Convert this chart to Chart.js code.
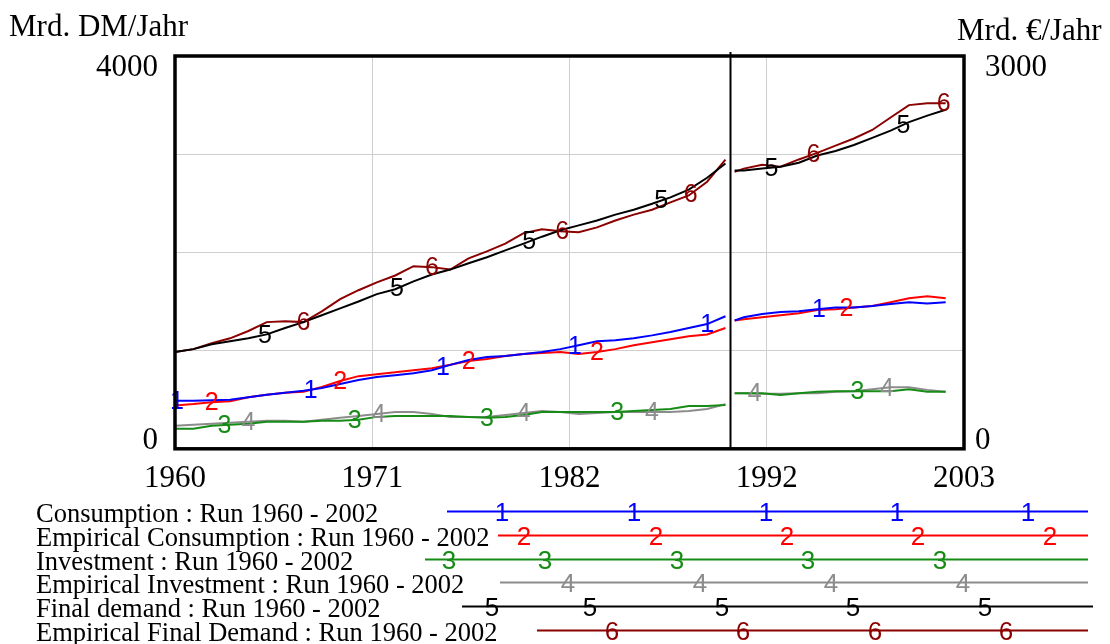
<!DOCTYPE html>
<html>
<head>
<meta charset="utf-8">
<script src="https://cdn.jsdelivr.net/npm/chart.js@4.4.1/dist/chart.umd.min.js"></script>
<style>
  html, body { margin: 0; padding: 0; background: #ffffff; }
  #wrap { width: 1110px; height: 644px; position: relative; }
</style>
</head>
<body>
<div id="wrap"><canvas id="chart" width="1110" height="644"></canvas></div>
<script>
// ---- Time axes -------------------------------------------------------
// West German period (Mrd. DM, left axis) and unified period (Mrd. €, right axis)
const yearsDM  = [1960, 1961, 1962, 1963, 1964, 1965, 1966, 1967, 1968, 1969,
                  1970, 1971, 1972, 1973, 1974, 1975, 1976, 1977, 1978, 1979,
                  1980, 1981, 1982, 1983, 1984, 1985, 1986, 1987, 1988, 1989, 1990];
const yearsEUR = [1990.5, 1991, 1992, 1993, 1994, 1995, 1996, 1997, 1998, 1999, 2000, 2001, 2002];
const breakYear = 1990.25;

const xTickValues = [1960, 1970.75, 1981.5, 1992.25, 2003];
const xTickLabels = ['1960', '1971', '1982', '1992', '2003'];
const dmTicks  = [0, 4000];
const eurTicks = [0, 3000];

// ---- Series: Mrd. DM/Jahr, 1960-1990 ----------------------------------
const consumptionDM     = [490, 490, 495, 500, 525, 550, 570, 590, 620, 660, 700, 730, 750, 770, 800, 855,
                           905, 935, 945, 965, 985, 1015, 1055, 1095, 1105, 1125, 1155, 1190, 1230, 1270, 1350];
const empConsumptionDM  = [440, 455, 475, 485, 525, 550, 570, 580, 630, 690, 740, 760, 780, 800, 820, 855,
                           895, 915, 945, 965, 975, 985, 965, 985, 1015, 1055, 1085, 1115, 1145, 1165, 1230];
const investmentDM      = [205, 205, 235, 245, 255, 275, 275, 275, 285, 285, 295, 325, 335, 335, 335, 335,
                           325, 315, 325, 345, 375, 375, 375, 375, 375, 385, 395, 405, 435, 435, 445];
const empInvestmentDM   = [235, 245, 255, 265, 275, 285, 285, 275, 295, 315, 335, 355, 375, 375, 355, 325,
                           325, 325, 345, 365, 385, 375, 355, 365, 375, 375, 375, 375, 385, 405, 455];
const finalDemandDM     = [985, 1015, 1065, 1095, 1125, 1165, 1230, 1290, 1360, 1430, 1500, 1575, 1625, 1705, 1775, 1825,
                           1890, 1950, 2020, 2090, 2160, 2225, 2275, 2325, 2385, 2435, 2495, 2560, 2640, 2760, 2905];
const empFinalDemandDM  = [985, 1015, 1075, 1125, 1200, 1290, 1300, 1290, 1400, 1525, 1615, 1695, 1765, 1860, 1850, 1825,
                           1940, 2010, 2090, 2195, 2235, 2215, 2205, 2255, 2325, 2385, 2435, 2510, 2580, 2720, 2945];

// ---- Series: Mrd. €/Jahr, 1990-2002 -----------------------------------
const consumptionEUR    = [980, 1005, 1030, 1045, 1050, 1065, 1080, 1080, 1090, 1105, 1120, 1110, 1120];
const empConsumptionEUR = [980, 990, 1005, 1020, 1035, 1060, 1065, 1080, 1090, 1120, 1150, 1165, 1150];
const investmentEUR     = [425, 425, 425, 410, 425, 435, 440, 440, 440, 440, 455, 435, 435];
const empInvestmentEUR  = [425, 425, 420, 420, 425, 425, 435, 440, 455, 470, 470, 450, 435];
const finalDemandEUR    = [2125, 2125, 2140, 2155, 2185, 2240, 2275, 2320, 2375, 2430, 2495, 2545, 2590];
const empFinalDemandEUR = [2115, 2140, 2170, 2155, 2210, 2260, 2315, 2370, 2435, 2530, 2625, 2640, 2640];

const seriesLabels = [
  'Consumption : Run 1960 - 2002',
  'Empirical Consumption : Run 1960 - 2002',
  'Investment : Run 1960 - 2002',
  'Empirical Investment : Run 1960 - 2002',
  'Final demand : Run 1960 - 2002',
  'Empirical Final Demand : Run 1960 - 2002'
];
const seriesMarks  = ['1', '2', '3', '4', '5', '6'];
const seriesColors = ['#0000ff', '#ff0000', '#168c16', '#8c8c8c', '#000000', '#8b0000'];
const seriesDM  = [consumptionDM, empConsumptionDM, investmentDM, empInvestmentDM, finalDemandDM, empFinalDemandDM];
const seriesEUR = [consumptionEUR, empConsumptionEUR, investmentEUR, empInvestmentEUR, finalDemandEUR, empFinalDemandEUR];

// Where the numbered identifiers sit along each curve (in years)
const markYears = [
  [1960.1, 1967.4, 1974.6, 1981.8, 1989.0, 1995.1],
  [1962.0, 1969.0, 1976.0, 1983.0, 1996.6],
  [1962.7, 1969.8, 1977.0, 1984.1, 1997.2],
  [1964.0, 1971.1, 1979.0, 1986.0, 1991.6, 1998.8],
  [1964.9, 1972.1, 1979.3, 1986.5, 1992.5, 1999.7],
  [1967.0, 1974.0, 1981.1, 1988.1, 1994.8, 2001.9]
];

// Key below the plot: line start/end and positions of the identifiers
const keyLayout = [
  { from: 447, to: 1088, marks: [502, 634, 766, 897, 1028] },
  { from: 498, to: 1088, marks: [524, 656, 787, 918, 1050] },
  { from: 425, to: 1088, marks: [449, 545, 677, 808, 940] },
  { from: 500, to: 1088, marks: [568, 700, 831, 963] },
  { from: 462, to: 1093, marks: [492, 590, 722, 853, 985] },
  { from: 537, to: 1088, marks: [612, 743, 875, 1006] }
];

const SERIF = '"Liberation Serif", "Times New Roman", serif';
const SANS  = '"Liberation Sans", Arial, sans-serif';

// ---- Datasets ----------------------------------------------------------
const datasets = [];
seriesLabels.forEach((label, s) => {
  datasets.push({
    label: label, series: s, yAxisID: 'yDM',
    data: yearsDM.map((x, i) => ({ x: x, y: seriesDM[s][i] })),
    borderColor: seriesColors[s], borderWidth: 2, pointRadius: 0, tension: 0, fill: false
  });
  datasets.push({
    label: label, series: s, yAxisID: 'yEUR',
    data: yearsEUR.map((x, i) => ({ x: x, y: seriesEUR[s][i] })),
    borderColor: seriesColors[s], borderWidth: 2, pointRadius: 0, tension: 0, fill: false
  });
});

// ---- Plugins -------------------------------------------------------------
const decorations = {
  id: 'decorations',
  afterDatasetsDraw(chart) {
    const ctx = chart.ctx, area = chart.chartArea, xs = chart.scales.x;
    ctx.save();
    // separator between DM and € periods
    const bx = Math.round(xs.getPixelForValue(breakYear)) + 0.5;
    ctx.strokeStyle = '#000'; ctx.lineWidth = 2;
    ctx.beginPath(); ctx.moveTo(bx, area.top - 4); ctx.lineTo(bx, area.bottom); ctx.stroke();

    // numbered identifiers on the curves
    ctx.font = '25px ' + SANS;
    ctx.textAlign = 'center'; ctx.textBaseline = 'middle';
    chart.data.datasets.forEach((ds, di) => {
      const pts = chart.getDatasetMeta(di).data;
      if (!pts.length) return;
      markYears[ds.series].forEach(yr => {
        const px = xs.getPixelForValue(yr);
        if (px < pts[0].x - 1 || px > pts[pts.length - 1].x + 1) return;
        let py = pts[0].y;
        for (let k = 0; k < pts.length - 1; k++) {
          if (px >= pts[k].x && px <= pts[k + 1].x) {
            const t = (px - pts[k].x) / (pts[k + 1].x - pts[k].x);
            py = pts[k].y + t * (pts[k + 1].y - pts[k].y);
            break;
          }
          if (k === pts.length - 2) py = pts[pts.length - 1].y;
        }
        ctx.fillStyle = ds.borderColor;
        ctx.fillText(seriesMarks[ds.series], px, py + 1);
      });
    });
    ctx.restore();
  },
  afterDraw(chart) {
    const ctx = chart.ctx, area = chart.chartArea;
    const yDM = chart.scales.yDM, yEUR = chart.scales.yEUR;
    ctx.save();
    // heavy frame
    ctx.strokeStyle = '#000'; ctx.lineWidth = 3.5;
    ctx.strokeRect(area.left, area.top, area.right - area.left, area.bottom - area.top);

    // axis units
    ctx.fillStyle = '#000';
    ctx.font = '31px ' + SERIF;
    ctx.textBaseline = 'alphabetic';
    ctx.textAlign = 'left';
    ctx.fillText('Mrd. DM/Jahr', 9, 36);
    ctx.fillText('Mrd. €/Jahr', 957, 40);

    // end-of-range tick labels, set just inside the range
    ctx.textBaseline = 'middle';
    ctx.textAlign = 'right';
    dmTicks.forEach(v => {
      const p = yDM.getPixelForValue(v);
      ctx.fillText(String(v), 158, v === 0 ? p - 8 : p + 12);
    });
    ctx.textAlign = 'left';
    eurTicks.forEach(v => {
      const p = yEUR.getPixelForValue(v);
      ctx.fillText(String(v), v === 0 ? 975 : 985, v === 0 ? p - 8 : p + 12);
    });

    // key
    seriesLabels.forEach((label, s) => {
      const base = 522 + s * 23.8;
      const ly = Math.round(base - 11) + 0.5;
      ctx.fillStyle = '#000';
      ctx.font = '26.5px ' + SERIF;
      ctx.textAlign = 'left'; ctx.textBaseline = 'alphabetic';
      ctx.fillText(label, 36, base);
      const k = keyLayout[s];
      ctx.strokeStyle = seriesColors[s]; ctx.lineWidth = 2;
      ctx.beginPath(); ctx.moveTo(k.from, ly); ctx.lineTo(k.to, ly); ctx.stroke();
      ctx.fillStyle = seriesColors[s];
      ctx.font = '26px ' + SANS;
      ctx.textAlign = 'center'; ctx.textBaseline = 'middle';
      k.marks.forEach(mx => ctx.fillText(seriesMarks[s], mx, ly + 2));
    });
    ctx.restore();
  }
};

new Chart(document.getElementById('chart'), {
  type: 'line',
  data: { datasets: datasets },
  options: {
    responsive: false,
    animation: false,
    devicePixelRatio: 1,
    layout: { padding: { left: 175, right: 146, top: 56, bottom: 136 } },
    plugins: { legend: { display: false }, tooltip: { enabled: false } },
    scales: {
      x: {
        type: 'linear', min: 1960, max: 2003,
        afterBuildTicks: s => { s.ticks = xTickValues.map(v => ({ value: v })); },
        ticks: {
          autoSkip: false, maxRotation: 0, padding: 11, color: '#000',
          font: { family: SERIF, size: 31 },
          callback: (v, i) => xTickLabels[i]
        },
        grid: { color: '#cfcfcf', lineWidth: 1, drawTicks: false },
        border: { display: false }
      },
      yDM: {
        position: 'left', min: 0, max: 4000,
        ticks: { display: false, stepSize: 1000 },
        grid: { color: '#cfcfcf', lineWidth: 1, drawTicks: false },
        border: { display: false }
      },
      yEUR: {
        position: 'right', min: 0, max: 3000,
        ticks: { display: false, stepSize: 1000 },
        grid: { display: false, drawTicks: false },
        border: { display: false }
      }
    }
  },
  plugins: [decorations]
});
</script>
</body>
</html>
